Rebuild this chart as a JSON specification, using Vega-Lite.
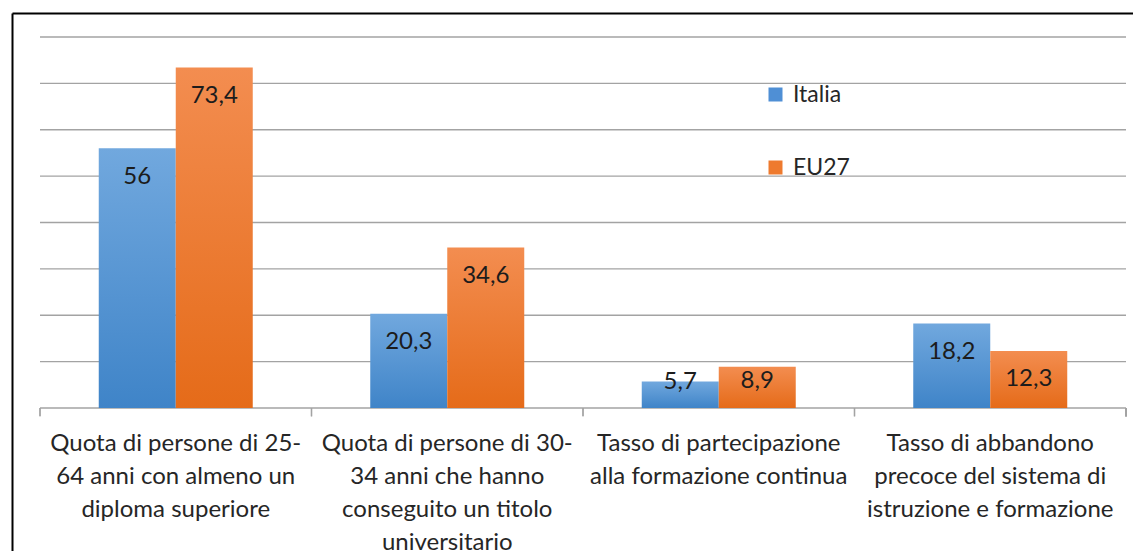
{
  "$schema": "https://vega.github.io/schema/vega-lite/v6.json",
  "width": 1121,
  "height": 538,
  "autosize": {"type": "none"},
  "padding": {"left": 12, "top": 13, "right": 0, "bottom": 0},
  "background": "white",
  "config": {
    "view": {"stroke": null},
    "font": "Lato",
    "locale": {"number": {"decimal": ",", "thousands": ".", "grouping": [3], "currency": ["", " €"]}}
  },
  "datasets": {
    "dati": [
      {"categoria": "Quota di persone di 25-|64 anni con almeno un|diploma superiore", "serie": "Italia", "valore": 56},
      {"categoria": "Quota di persone di 25-|64 anni con almeno un|diploma superiore", "serie": "EU27", "valore": 73.4},
      {"categoria": "Quota di persone di 30-|34 anni che hanno|conseguito un titolo|universitario", "serie": "Italia", "valore": 20.3},
      {"categoria": "Quota di persone di 30-|34 anni che hanno|conseguito un titolo|universitario", "serie": "EU27", "valore": 34.6},
      {"categoria": "Tasso di partecipazione|alla formazione continua", "serie": "Italia", "valore": 5.7},
      {"categoria": "Tasso di partecipazione|alla formazione continua", "serie": "EU27", "valore": 8.9},
      {"categoria": "Tasso di abbandono|precoce del sistema di|istruzione e formazione", "serie": "Italia", "valore": 18.2},
      {"categoria": "Tasso di abbandono|precoce del sistema di|istruzione e formazione", "serie": "EU27", "valore": 12.3}
    ],
    "griglia": [{"v": 0}, {"v": 10}, {"v": 20}, {"v": 30}, {"v": 40}, {"v": 50}, {"v": 60}, {"v": 70}, {"v": 80}]
  },
  "resolve": {"axis": {"x": "independent", "y": "independent"}},
  "layer": [
    {
      "data": {"name": "griglia"},
      "mark": {"type": "rule", "stroke": "#a3a3a3", "strokeWidth": 1.3},
      "encoding": {
        "y": {
          "field": "v", "type": "quantitative",
          "scale": {"domain": [-30.836, 85.175], "nice": false, "zero": false},
          "axis": {"orient": "left", "domain": true, "domainColor": "black", "domainWidth": 2, "ticks": false, "labels": false, "title": null, "grid": true, "values": [85.175], "gridColor": "black", "gridWidth": 2}
        },
        "x": {
          "datum": "Quota di persone di 25-|64 anni con almeno un|diploma superiore", "type": "nominal", "bandPosition": 0,
          "scale": {"domain": ["Quota di persone di 25-|64 anni con almeno un|diploma superiore", "Quota di persone di 30-|34 anni che hanno|conseguito un titolo|universitario", "Tasso di partecipazione|alla formazione continua", "Tasso di abbandono|precoce del sistema di|istruzione e formazione"], "paddingInner": 0, "paddingOuter": 0.06446, "align": 0.8},
          "axis": null
        },
        "x2": {"datum": "Tasso di abbandono|precoce del sistema di|istruzione e formazione", "bandPosition": 1}
      }
    },
    {
      "data": {"name": "dati"},
      "mark": {"type": "rule", "stroke": "#a3a3a3", "strokeWidth": 1.3},
      "encoding": {
        "x": {"field": "categoria", "type": "nominal", "bandPosition": 0, "axis": null},
        "y": {"datum": 0, "type": "quantitative", "axis": null},
        "y2": {"datum": -1.8}
      }
    },
    {
      "data": {"name": "dati"},
      "mark": {"type": "rule", "stroke": "#a3a3a3", "strokeWidth": 1.3},
      "encoding": {
        "x": {"datum": "Tasso di abbandono|precoce del sistema di|istruzione e formazione", "type": "nominal", "bandPosition": 1, "axis": null},
        "y": {"datum": 0, "type": "quantitative", "axis": null},
        "y2": {"datum": -1.8}
      }
    },
    {
      "data": {"name": "dati"},
      "transform": [{"filter": "datum.serie === 'Italia'"}],
      "mark": {"type": "bar", "fill": {"gradient": "linear", "x1": 0, "y1": 0, "x2": 0, "y2": 1, "stops": [{"offset": 0, "color": "#71a8de"}, {"offset": 1, "color": "#3f84c8"}]}},
      "encoding": {
        "x": {
          "field": "categoria", "type": "nominal", "sort": null,
          "axis": {"orient": "bottom", "offset": -143, "domain": false, "ticks": false, "grid": false, "title": null, "labelExpr": "split(datum.label, '|')", "labelFontSize": 24, "labelColor": "#262626", "labelPadding": 23, "labelLimit": 400, "labelLineHeight": 33, "labelAngle": 0, "labelBaseline": "top", "labelFont": "Lato"}
        },
        "xOffset": {"field": "serie", "type": "nominal", "scale": {"domain": ["Italia", "EU27"], "paddingInner": 0, "paddingOuter": 0.763}},
        "y": {"field": "valore", "type": "quantitative", "axis": null},
        "y2": {"datum": 0}
      }
    },
    {
      "data": {"name": "dati"},
      "transform": [{"filter": "datum.serie === 'EU27'"}],
      "mark": {"type": "bar", "fill": {"gradient": "linear", "x1": 0, "y1": 0, "x2": 0, "y2": 1, "stops": [{"offset": 0, "color": "#f38d50"}, {"offset": 1, "color": "#e56b19"}]}},
      "encoding": {
        "x": {"field": "categoria", "type": "nominal", "axis": null},
        "xOffset": {"field": "serie", "type": "nominal"},
        "y": {"field": "valore", "type": "quantitative", "axis": null},
        "y2": {"datum": 0}
      }
    },
    {
      "data": {"name": "dati"},
      "mark": {"type": "bar", "opacity": 0},
      "encoding": {
        "x": {"field": "categoria", "type": "nominal", "axis": null},
        "xOffset": {"field": "serie", "type": "nominal"},
        "y": {"field": "valore", "type": "quantitative", "axis": null},
        "color": {
          "field": "serie", "type": "nominal",
          "scale": {"domain": ["Italia", "EU27"], "range": ["#4f8fd5", "#ee7a2e"]},
          "legend": {"title": null, "orient": "none", "legendX": 752, "legendY": 70, "direction": "vertical", "symbolType": "square", "symbolSize": 196, "symbolOpacity": 1, "symbolStrokeWidth": 0, "labelFontSize": 23, "labelColor": "#262626", "labelFont": "Lato", "rowPadding": 49, "labelOffset": 6, "padding": 0}
        }
      }
    },
    {
      "data": {"name": "dati"},
      "mark": {"type": "text", "fontSize": 24, "color": "#1c1c1c", "baseline": "middle", "align": "center", "dy": {"expr": "datum.valore < 7 ? 0 : (datum.valore < 10 ? 14 : 28.5)"}},
      "encoding": {
        "x": {"field": "categoria", "type": "nominal", "axis": null},
        "xOffset": {"field": "serie", "type": "nominal"},
        "y": {"field": "valore", "type": "quantitative", "axis": null},
        "text": {"field": "valore", "type": "quantitative", "format": ".1~f"}
      }
    }
  ]
}
